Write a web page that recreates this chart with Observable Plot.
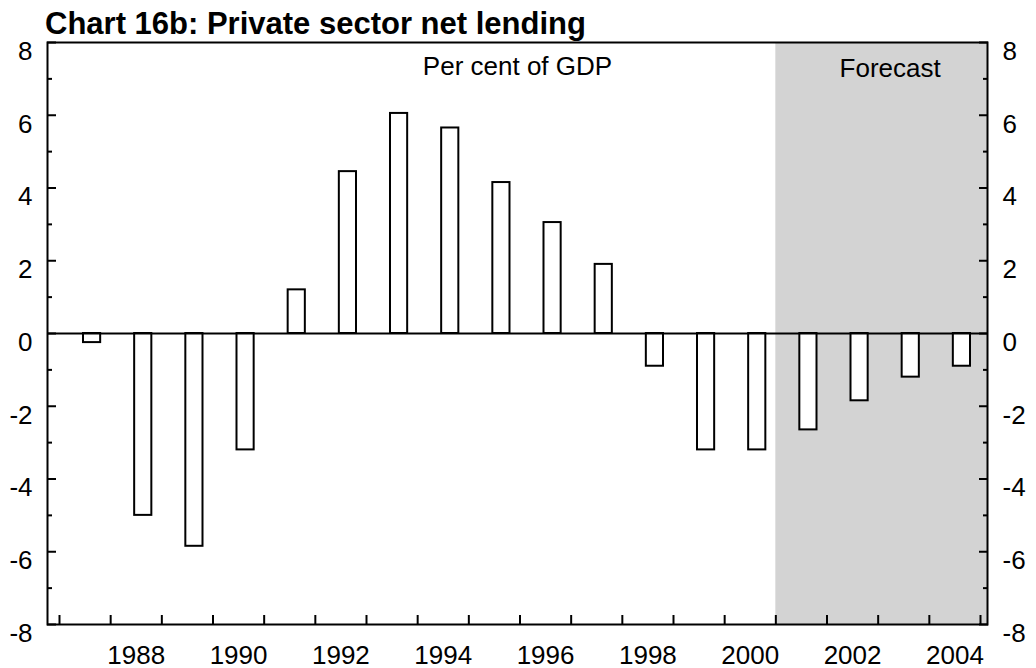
<!DOCTYPE html>
<html><head><meta charset="utf-8">
<script src="https://cdn.jsdelivr.net/npm/d3@7"></script>
<script src="https://cdn.jsdelivr.net/npm/@observablehq/plot@0.6"></script>
<style>
body{margin:0;background:#fff;font-family:"Liberation Sans",Arial,sans-serif;}
#title{height:39px;box-sizing:border-box;padding:9px 0 0 45px;font-size:31px;font-weight:bold;line-height:30px;white-space:nowrap;color:#000;}
</style></head><body>
<div id="title">Chart 16b: Private sector net lending</div>
<div id="chart"></div>
<script>
const years = [1987,1988,1989,1990,1991,1992,1993,1994,1995,1996,1997,1998,1999,2000,2001,2002,2003,2004];
const values = [-0.25,-5.0,-5.85,-3.2,1.2,4.45,6.05,5.65,4.15,3.05,1.9,-0.9,-3.2,-3.2,-2.65,-1.85,-1.2,-0.9];
const yTicks = [-8,-6,-4,-2,0,2,4,6,8];
const yMinorTicks = [-7,-5,-3,-1,1,3,5,7];
const xTickLabels = [1988,1990,1992,1994,1996,1998,2000,2002,2004];
const forecastYears = [2001,2002,2003,2004];
const unitLabel = "Per cent of GDP";
const forecastLabel = "Forecast";

const data = years.map((year, i) => ({year, value: values[i]}));
const bounds = years.map(y => y - 0.5).concat([years[years.length - 1] + 0.5]);
const xMin = years[0] - 0.5 - 0.2345;
const xMax = years[years.length - 1] + 0.5 + 0.1368;
const yMin = yTicks[0], yMax = yTicks[yTicks.length - 1];
const fmt = d => String(d);
const font = "'Liberation Sans', Arial, sans-serif";

const chart = Plot.plot({
  width: 1036, height: 629,
  marginTop: 3, marginBottom: 44, marginLeft: 47, marginRight: 49,
  style: {fontFamily: font, fontSize: "26px", color: "#000", background: "#fff", overflow: "visible"},
  x: {type: "linear", domain: [xMin, xMax], label: null},
  y: {domain: [yMin, yMax], label: null},
  marks: [
    Plot.rect([forecastYears], {x1: d => d[0] - 0.5, x2: xMax, y1: yMin, y2: yMax, fill: "#d3d3d3"}),
    Plot.rect(data, {x1: d => d.year - 0.5, x2: d => d.year + 0.5, y1: 0, y2: "value", insetLeft: 24, insetRight: 10, fill: "white", stroke: "black", strokeWidth: 2}),
    Plot.ruleY([0], {stroke: "black", strokeWidth: 2}),
    Plot.frame({stroke: "black", strokeWidth: 2}),
    Plot.axisY(yTicks, {anchor: "left", tickSize: -9, tickFormat: () => "", strokeWidth: 2, label: null}),
    Plot.axisY(yMinorTicks, {anchor: "left", tickSize: -5, tickFormat: () => "", strokeWidth: 2, label: null}),
    Plot.axisY(yTicks, {anchor: "right", tickSize: -9, tickFormat: () => "", strokeWidth: 2, label: null}),
    Plot.axisY(yMinorTicks, {anchor: "right", tickSize: -5, tickFormat: () => "", strokeWidth: 2, label: null}),
    Plot.axisY(yTicks, {anchor: "left", tickSize: 0, tickPadding: 15, dy: 9, tickFormat: fmt, fontSize: 26, label: null}),
    Plot.axisY(yTicks, {anchor: "right", tickSize: 0, tickPadding: 15, dy: 9, tickFormat: fmt, fontSize: 26, label: null}),
    Plot.axisX(bounds, {anchor: "bottom", tickSize: -9, tickFormat: () => "", strokeWidth: 2, label: null}),
    Plot.axisX(xTickLabels, {anchor: "bottom", tickSize: 0, tickPadding: 21, tickFormat: fmt, fontSize: 26, label: null}),
    Plot.text([unitLabel], {frameAnchor: "top", text: d => d, lineAnchor: "top", dy: 14, fontSize: 26}),
    Plot.text([forecastLabel], {x: d3.mean(forecastYears), frameAnchor: "top", text: d => d, lineAnchor: "top", dy: 16, dx: 12, fontSize: 26})
  ]
});
document.getElementById("chart").appendChild(chart);
</script>
</body></html>
